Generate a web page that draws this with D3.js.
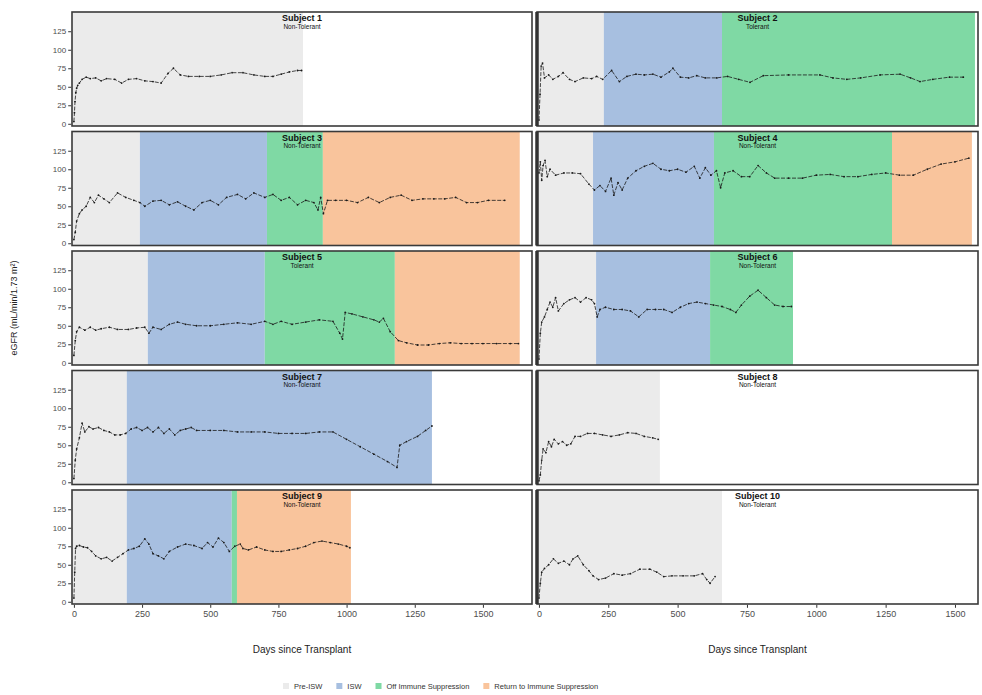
<!DOCTYPE html>
<html>
<head>
<meta charset="utf-8">
<script src="https://cdn.jsdelivr.net/npm/d3@7"></script>
<style>
  body { margin: 0; background: #fff; }
  text { font-family: "Liberation Sans", Arial, sans-serif; }
</style>
</head>
<body>
<div id="chart"></div>
<script>
// eGFR per subject, shaded by immunosuppression phase

var width = 982, height = 695;

// subject titles and outcome
var subjects = ["Subject 1", "Subject 2", "Subject 3", "Subject 4", "Subject 5",
                "Subject 6", "Subject 7", "Subject 8", "Subject 9", "Subject 10"];
var outcomes = ["Non-Tolerant", "Tolerant", "Non-Tolerant", "Non-Tolerant", "Tolerant",
                "Non-Tolerant", "Non-Tolerant", "Non-Tolerant", "Non-Tolerant", "Non-Tolerant"];

// phases and the day each phase ends, per subject
var phaseNames = ["Pre-ISW", "ISW", "Off Immune Suppression", "Return to Immune Suppression"];
var phaseColors = ["#ebebeb", "#a7bfe0", "#7fd9a4", "#f9c49c"];
var phaseEnds = [
  [840],
  [234, 660, 1572],
  [242, 708, 913, 1635],
  [195, 631, 1273, 1561],
  [271, 700, 1177, 1635],
  [206, 617, 916],
  [194, 1313],
  [436],
  [194, 579, 598, 1016],
  [660]
];

// eGFR readings: [day, value]
var egfr1 = [[0,3],[2,15],[4,30],[7,42],[10,48],[14,52],[20,55],[30,60],[45,63],[60,61],[80,62],[100,58],[120,61],[150,60],[175,55],[200,60],[230,61],[260,58],[290,57],[320,55],[345,68],[365,75],[390,66],[420,64],[460,64],[500,64],[540,66],[580,69],[620,69],[660,66],[700,64],[730,64],[760,67],[790,70],[820,72],[835,72]];
var egfr2 = [[0,5],[4,40],[8,78],[13,82],[20,62],[35,66],[50,60],[70,64],[87,69],[110,60],[130,57],[160,62],[190,61],[208,64],[230,60],[262,72],[290,57],[317,64],[350,67],[380,66],[411,67],[440,63],[470,70],[483,75],[510,63],[540,62],[569,65],[600,62],[641,62],[680,64],[720,60],[761,56],[809,65],[900,66],[1013,66],[1060,62],[1110,60],[1160,62],[1230,66],[1302,67],[1340,62],[1374,57],[1420,60],[1480,63],[1530,63]];
var egfr3 = [[0,5],[5,15],[10,30],[20,40],[30,45],[45,50],[60,62],[75,55],[90,65],[110,60],[130,55],[160,68],[190,62],[220,58],[242,55],[260,50],[290,57],[320,58],[350,52],[380,56],[410,50],[440,45],[470,55],[500,58],[530,52],[560,62],[600,66],[630,60],[660,68],[700,62],[730,66],[760,58],[790,62],[820,52],[850,58],[880,55],[895,45],[905,62],[915,40],[930,58],[960,58],[1000,58],[1040,55],[1080,62],[1120,55],[1160,62],[1200,65],[1240,58],[1280,60],[1320,60],[1360,60],[1400,62],[1440,55],[1480,55],[1520,58],[1580,58]];
var egfr4 = [[0,95],[5,110],[10,85],[15,105],[22,112],[30,90],[40,100],[60,92],[90,95],[120,95],[150,94],[180,80],[200,72],[220,78],[240,70],[260,88],[270,65],[285,82],[300,72],[320,88],[350,98],[380,104],[411,108],[440,100],[470,98],[500,100],[530,96],[560,104],[580,88],[600,102],[620,92],[640,98],[655,75],[670,95],[700,98],[730,90],[760,90],[790,105],[820,95],[850,88],[900,88],[950,88],[1000,92],[1050,93],[1100,90],[1150,90],[1200,93],[1250,95],[1300,92],[1350,92],[1400,100],[1450,107],[1500,110],[1550,115]];
var egfr5 = [[0,10],[5,30],[10,42],[20,48],[40,44],[60,48],[80,44],[100,46],[130,48],[160,45],[200,45],[230,47],[260,48],[275,40],[290,48],[320,45],[350,52],[380,55],[410,52],[450,50],[500,50],[550,52],[600,54],[650,52],[700,56],[730,52],[760,56],[800,52],[850,55],[900,58],[950,56],[975,40],[985,32],[995,68],[1020,66],[1060,62],[1100,58],[1120,55],[1135,60],[1160,42],[1190,30],[1220,27],[1260,24],[1300,24],[1340,26],[1380,27],[1420,26],[1460,26],[1500,26],[1550,26],[1600,26],[1630,26]];
var egfr6 = [[0,5],[5,40],[10,55],[20,62],[30,72],[40,82],[50,75],[60,88],[70,70],[90,80],[110,85],[130,88],[150,82],[170,88],[190,85],[200,80],[210,62],[220,72],[240,75],[270,72],[300,72],[330,70],[360,62],[390,72],[420,72],[450,72],[480,68],[510,75],[540,80],[570,82],[600,80],[630,78],[660,76],[690,72],[710,68],[730,78],[760,90],[790,98],[820,88],[850,78],[880,76],[910,76]];
var egfr7 = [[0,5],[5,30],[10,45],[20,60],[30,80],[40,68],[55,75],[70,72],[90,74],[110,70],[130,68],[150,64],[170,64],[190,66],[210,72],[230,74],[250,70],[270,74],[290,68],[310,74],[330,66],[350,72],[370,64],[390,70],[410,72],[430,74],[450,70],[500,70],[550,70],[600,68],[650,68],[700,68],[750,66],[800,66],[850,66],[900,68],[950,68],[1000,58],[1050,48],[1100,38],[1150,28],[1185,20],[1195,50],[1220,55],[1260,62],[1290,70],[1313,76]];
var egfr8 = [[0,2],[5,10],[10,30],[15,45],[25,40],[35,55],[45,48],[55,58],[70,52],[85,55],[100,50],[115,52],[130,62],[150,62],[175,66],[200,66],[230,64],[260,62],[290,64],[320,67],[350,66],[380,62],[410,60],[430,58]];
var egfr9 = [[0,5],[3,40],[6,72],[10,75],[20,76],[35,74],[50,73],[65,68],[80,62],[100,58],[120,60],[140,55],[160,60],[180,65],[200,70],[220,72],[240,75],[260,85],[275,78],[290,65],[310,62],[330,58],[350,68],[380,74],[410,78],[440,76],[470,72],[490,80],[510,74],[530,86],[550,80],[570,68],[590,75],[610,78],[620,72],[640,70],[670,74],[700,70],[730,68],[760,68],[790,70],[820,72],[850,75],[880,80],[910,82],[940,80],[970,78],[1000,75],[1012,73]];
var egfr10 = [[0,5],[5,25],[10,40],[20,45],[35,50],[52,58],[70,52],[90,55],[110,50],[123,58],[140,62],[160,50],[180,42],[195,35],[215,30],[240,32],[270,38],[300,36],[330,38],[364,44],[400,44],[425,40],[450,34],[480,35],[520,35],[560,35],[590,38],[605,30],[617,25],[635,34]];

var series = [egfr1, egfr2, egfr3, egfr4, egfr5, egfr6, egfr7, egfr8, egfr9, egfr10];

var xTicks = [0, 250, 500, 750, 1000, 1250, 1500];
var yTicks = [0, 25, 50, 75, 100, 125];

// layout
var colRange = [[72, 532], [537, 978]];
var colDomain = [[-7, 1680], [-7, 1583]];
var panelH = 114, rowStep = 119.5, top0 = 12;

var svg = d3.select("#chart").append("svg")
    .attr("width", width)
    .attr("height", height);

var xScales = colDomain.map(function(dom, c) {
    return d3.scaleLinear().domain(dom).range(colRange[c]);
});

subjects.forEach(function(name, i) {
    var col = i % 2, row = Math.floor(i / 2);
    var x = xScales[col];
    var top = top0 + row * rowStep;
    var y = d3.scaleLinear().domain([-3, 151]).range([top + panelH, top]);
    var x0 = colRange[col][0], x1 = colRange[col][1];

    var g = svg.append("g");

    // phase bands
    var start = colDomain[col][0];
    phaseEnds[i].forEach(function(end, p) {
        g.append("rect")
            .attr("x", x(start))
            .attr("y", top)
            .attr("width", x(end) - x(start))
            .attr("height", panelH)
            .attr("fill", phaseColors[p]);
        start = end;
    });

    // eGFR line + points
    var line = d3.line().x(function(d) { return x(d[0]); }).y(function(d) { return y(d[1]); });
    g.append("path")
        .datum(series[i])
        .attr("d", line)
        .attr("fill", "none")
        .attr("stroke", "#1a1a1a")
        .attr("stroke-width", 0.8)
        .attr("stroke-dasharray", "4,1.5");
    g.selectAll("circle")
        .data(series[i])
        .join("circle")
        .attr("cx", function(d) { return x(d[0]); })
        .attr("cy", function(d) { return y(d[1]); })
        .attr("r", 0.9)
        .attr("fill", "#1a1a1a");

    // panel border
    g.append("rect")
        .attr("x", x0).attr("y", top)
        .attr("width", x1 - x0).attr("height", panelH)
        .attr("fill", "none")
        .attr("stroke", "#3a3a3a")
        .attr("stroke-width", 1.6);
    if (col === 1) {
        g.append("line")
            .attr("x1", x0).attr("x2", x0)
            .attr("y1", top).attr("y2", top + panelH)
            .attr("stroke", "#333")
            .attr("stroke-width", 3.5);
    }

    // titles
    var cx = (x0 + x1) / 2;
    g.append("text")
        .attr("x", cx).attr("y", top + 9)
        .attr("text-anchor", "middle")
        .attr("font-size", 9).attr("font-weight", "bold")
        .attr("fill", "#111")
        .text(name);
    g.append("text")
        .attr("x", cx).attr("y", top + 16.5)
        .attr("text-anchor", "middle")
        .attr("font-size", 6.5)
        .attr("fill", "#111")
        .text(outcomes[i]);

    // y axis on left column
    if (col === 0) {
        var ya = svg.append("g")
            .attr("transform", "translate(" + (x0 - 0.8) + ",0)")
            .call(d3.axisLeft(y).tickValues(yTicks).tickSize(3).tickPadding(2));
        ya.select(".domain").remove();
        ya.selectAll("line").attr("stroke", "#333");
        ya.selectAll("text").attr("font-size", 8).attr("fill", "#4d4d4d");
    }

    // x axis on bottom row
    if (row === 4) {
        var xa = svg.append("g")
            .attr("transform", "translate(0," + (top + panelH + 0.8) + ")")
            .call(d3.axisBottom(x).tickValues(xTicks).tickFormat(d3.format("d")).tickSize(3).tickPadding(3));
        xa.select(".domain").remove();
        xa.selectAll("line").attr("stroke", "#333");
        xa.selectAll("text").attr("font-size", 9).attr("fill", "#4d4d4d");

        svg.append("text")
            .attr("x", cx).attr("y", 653)
            .attr("text-anchor", "middle")
            .attr("font-size", 10)
            .attr("fill", "#222")
            .text("Days since Transplant");
    }
});

// y axis title
svg.append("text")
    .attr("transform", "translate(17," + (top0 + (4 * rowStep + panelH) / 2) + ") rotate(-90)")
    .attr("text-anchor", "middle")
    .attr("font-size", 9)
    .attr("fill", "#222")
    .text("eGFR (mL/min/1.73 m²)");

// legend
var legend = svg.append("g").attr("transform", "translate(0,687)");
var lx = 283;
phaseNames.forEach(function(nm, p) {
    legend.append("rect")
        .attr("x", lx).attr("y", -4)
        .attr("width", 6).attr("height", 6)
        .attr("fill", phaseColors[p]);
    var t = legend.append("text")
        .attr("x", lx + 11).attr("y", 2)
        .attr("font-size", 7.5)
        .attr("fill", "#333")
        .text(nm);
    lx += 11 + t.node().getComputedTextLength() + 14;
});
</script>
</body>
</html>
